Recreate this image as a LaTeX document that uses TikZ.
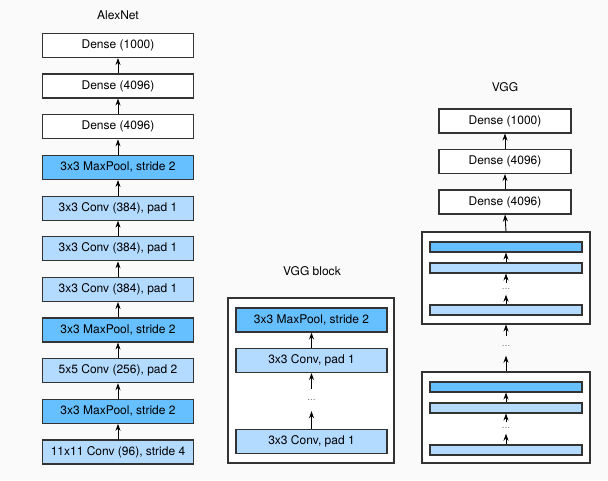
\documentclass[tikz,border=0pt]{standalone}
\usepackage{fontspec}
\setmainfont{TeX Gyre Heros}
\usetikzlibrary{arrows.meta}
\definecolor{poolblue}{RGB}{102,191,255}
\definecolor{convblue}{RGB}{179,218,255}
\definecolor{edgegray}{RGB}{51,51,51}
\definecolor{paper}{RGB}{250,250,250}

\begin{document}
\begin{tikzpicture}[x=1pt,y=-1pt,
	layer/.style={draw=edgegray,line width=1.1pt,minimum width=151pt,minimum height=24pt,inner sep=0pt,font=\fontsize{12}{14}\selectfont},
	dense/.style={layer,fill=white},
	conv/.style={layer,fill=convblue},
	pool/.style={layer,fill=poolblue},
	bar/.style={draw=edgegray,line width=1.1pt,minimum width=152pt,minimum height=10pt,inner sep=0pt},
	block/.style={draw=edgegray,line width=1.1pt,fill=white,inner sep=0pt},
	title/.style={font=\fontsize{12}{14}\selectfont},
	dots/.style={text=gray,font=\fontsize{10}{11}\selectfont,inner sep=0pt},
	flow/.style={-{Stealth[length=7pt,width=5pt]},line width=0.9pt}]
	\fill[paper] (0,0) rectangle (608,480);
	% AlexNet
	\node[title] (alextitle) at (118,15) {AlexNet};
	\node[dense] (a11) at (118,45.5) {Dense (1000)};
	\node[dense] (a10) at (118,86) {Dense (4096)};
	\node[dense] (a9) at (118,126.8) {Dense (4096)};
	\node[pool] (a8) at (118,167.5) {3x3 MaxPool, stride 2};
	\node[conv] (a7) at (118,208.1) {3x3 Conv (384), pad 1};
	\node[conv] (a6) at (118,248.8) {3x3 Conv (384), pad 1};
	\node[conv] (a5) at (118,289.4) {3x3 Conv (384), pad 1};
	\node[pool] (a4) at (118,330) {3x3 MaxPool, stride 2};
	\node[conv] (a3) at (118,370.7) {5x5 Conv (256), pad 2};
	\node[pool] (a2) at (118,411.3) {3x3 MaxPool, stride 2};
	\node[conv] (a1) at (118,452) {11x11 Conv (96), stride 4};
	\foreach \i [count=\j from 2] in {1,...,10}
		\draw[flow] (a\i.north) -- (a\j.south);
	% VGG block
	\node[title] (blocktitle) at (312,271) {VGG block};
	\node[block,minimum width=166pt,minimum height=165pt] (vblk) at (311,380.5) {};
	\node[pool] (bpool) at (311.5,320) {3x3 MaxPool, stride 2};
	\node[conv] (bconv) at (311.5,360.5) {3x3 Conv, pad 1};
	\node[dots,minimum height=22pt] (bdots) at (311.5,400) {...};
	\node[conv] (bconvlast) at (311.5,441.5) {3x3 Conv, pad 1};
	\draw[flow] (bconv.north) -- (bpool.south);
	\draw[flow] (bdots.north) -- (bconv.south);
	\draw[flow] (bconvlast.north) -- (bdots.south);
	% VGG
	\node[title] (vggtitle) at (505,87) {VGG};
	\node[dense,minimum width=132pt] (d3) at (505,121) {Dense (1000)};
	\node[dense,minimum width=132pt] (d2) at (505,161.5) {Dense (4096)};
	\node[dense,minimum width=132pt] (d1) at (505,202) {Dense (4096)};
	\node[block,minimum width=168pt,minimum height=92pt] (top) at (506,278) {};
	\node[bar,fill=poolblue] (tpool) at (506,247) {};
	\node[bar,fill=convblue] (tconv) at (506,268) {};
	\node[dots,minimum height=11pt] (tdots) at (506,289) {...};
	\node[bar,fill=convblue] (tconvlast) at (506,310) {};
	\node[dots,minimum height=19pt] (mdots) at (506,346) {...};
	\node[block,minimum width=168pt,minimum height=91pt] (bottom) at (506,417.5) {};
	\node[bar,fill=poolblue] (upool) at (506,387) {};
	\node[bar,fill=convblue] (uconv) at (506,408) {};
	\node[dots,minimum height=11pt] (udots) at (506,428) {...};
	\node[bar,fill=convblue] (uconvlast) at (506,450) {};
	\draw[flow] (d2.north) -- (d3.south);
	\draw[flow] (d1.north) -- (d2.south);
	\draw[flow] (top.north) -- (d1.south);
	\draw[flow] (tconv.north) -- (tpool.south);
	\draw[flow] (tdots.north) -- (tconv.south);
	\draw[flow] (tconvlast.north) -- (tdots.south);
	\draw[flow] (mdots.north) -- (top.south);
	\draw[flow] (bottom.north) -- (mdots.south);
	\draw[flow] (uconv.north) -- (upool.south);
	\draw[flow] (udots.north) -- (uconv.south);
	\draw[flow] (uconvlast.north) -- (udots.south);
\end{tikzpicture}
\end{document}
